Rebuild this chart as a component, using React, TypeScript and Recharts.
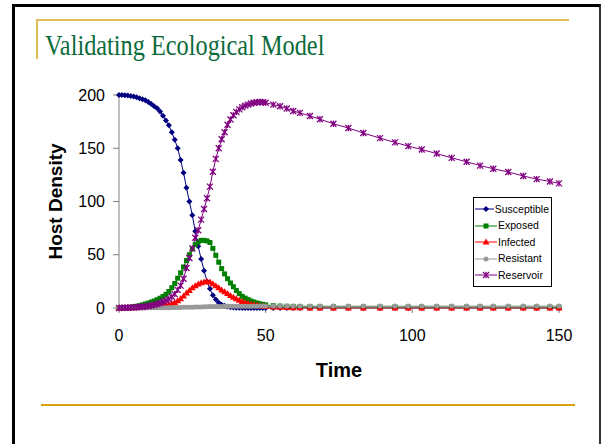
import { Legend, Line, LineChart, XAxis, YAxis, Label } from "recharts";

// time steps of the model output (dense early, adaptive later)
const times = [
	0, 1, 2, 3, 4, 5, 6, 7, 8, 9, 10, 11, 12, 13, 14, 15, 16, 17, 18, 19, 20,
	21, 22, 23, 24, 25, 26, 27, 28, 29, 30, 31, 32, 33, 34, 35, 36, 37, 38, 39,
	40, 41, 42, 43, 44, 45, 46, 47, 48, 49, 50, 52.6, 54.9, 57.2, 59.4, 61.7,
	65.1, 68.5, 73.1, 78.2, 83.3, 89, 94.1, 98.6, 103.2, 108.3, 113.4, 118.5,
	123.1, 127.6, 132.7, 137.8, 142.4, 146.9, 150,
];

const susceptible = [
	200, 200, 199.8, 199.5, 199, 198.5, 197.8, 197, 196, 195, 193.5, 191.5,
	189.5, 187.5, 184.5, 180.5, 176, 171.5, 165, 158, 150, 139, 127, 113, 100,
	87, 72, 58, 46, 35, 25, 18, 12, 8, 5, 3, 2, 1.3, 0.8, 0.5, 0.3, 0.2, 0.1,
	0.1, 0.1, 0, 0, 0, 0, 0, 0, 0, 0, 0, 0, 0, 0, 0, 0, 0, 0, 0, 0, 0, 0, 0, 0,
	0, 0, 0, 0, 0, 0, 0, 0,
];

const exposed = [
	0, 0.1, 0.2, 0.4, 0.7, 1.1, 1.6, 2.2, 3, 3.8, 4.6, 5.6, 6.6, 7.8, 9.2,
	10.8, 12.8, 15.5, 19, 23, 28, 33, 38.5, 44.5, 50, 55.5, 59.5, 62, 63.5,
	63.5, 63, 61.5, 56, 49.5, 43, 37, 32, 27.5, 23.5, 20, 16.5, 13.5, 11, 9.3,
	7.9, 6.6, 5.6, 4.7, 4, 3.4, 2.9, 2.2, 1.8, 1.6, 1.5, 1.4, 1.3, 1.2, 1.2,
	1.1, 1.1, 1.1, 1, 1, 1, 1, 1, 1, 1, 0.9, 0.9, 0.9, 0.9, 0.9, 0.9,
];

const infected = [
	0, 0, 0.05, 0.1, 0.15, 0.2, 0.3, 0.4, 0.5, 0.7, 0.9, 1.1, 1.4, 1.7, 2, 2.4,
	2.8, 3.4, 4.2, 5.2, 6.8, 8.8, 11.3, 14, 16.5, 19, 21, 22.5, 23.7, 24.5, 25,
	24.5, 22.8, 21, 19, 17, 15.2, 13.5, 11.7, 10, 8.6, 7.3, 6.2, 5.2, 4.3, 3.6,
	3, 2.5, 2, 1.7, 1.4, 0.9, 0.6, 0.4, 0.3, 0.2, 0.1, 0.1, 0, 0, 0, 0, 0, 0, 0,
	0, 0, 0, 0, 0, 0, 0, 0, 0, 0,
];

const resistant = [
	0, 0, 0, 0, 0, 0.05, 0.05, 0.1, 0.1, 0.1, 0.15, 0.15, 0.2, 0.2, 0.25, 0.3,
	0.3, 0.35, 0.4, 0.45, 0.5, 0.55, 0.6, 0.7, 0.75, 0.8, 0.9, 1, 1.05, 1.1,
	1.2, 1.3, 1.35, 1.4, 1.45, 1.5, 1.55, 1.6, 1.6, 1.65, 1.65, 1.7, 1.7, 1.7,
	1.75, 1.75, 1.75, 1.75, 1.8, 1.8, 1.8, 1.8, 1.8, 1.8, 1.8, 1.8, 1.8, 1.8,
	1.8, 1.8, 1.8, 1.8, 1.8, 1.8, 1.8, 1.8, 1.8, 1.8, 1.8, 1.8, 1.8, 1.8, 1.8,
	1.8, 1.8,
];

const reservoir = [
	0, 0.1, 0.2, 0.3, 0.4, 0.6, 0.8, 1, 1.2, 1.5, 1.9, 2.4, 3, 3.8, 4.7, 5.8, 7,
	8.5, 10.5, 13, 17, 21, 27.5, 37.5, 47, 56, 66, 73, 83, 93, 103, 114, 128,
	140, 150, 158.5, 165, 172, 177, 181, 184, 186.5, 188.5, 190, 191, 192,
	192.8, 193.2, 193.4, 193.2, 192.8, 191, 189.5, 187.3, 185, 183.2, 180.3,
	177.3, 173, 169, 164.3, 159.5, 155.5, 152, 148.8, 145, 141, 137.3, 133.7,
	130.8, 127.7, 124, 121, 118.8, 117,
];

const xTicks = [0, 50, 100, 150];
const yTicks = [0, 50, 100, 150, 200];

const data = times.map((t, i) => ({
	t,
	susceptible: susceptible[i],
	exposed: exposed[i],
	infected: infected[i],
	resistant: resistant[i],
	reservoir: reservoir[i],
}));

const series = [
	{ key: "susceptible", name: "Susceptible", color: "#000080", shape: "diamond" },
	{ key: "exposed", name: "Exposed", color: "#008000", shape: "square" },
	{ key: "infected", name: "Infected", color: "#ff0000", shape: "triangle" },
	{ key: "resistant", name: "Resistant", color: "#999999", shape: "circle" },
	{ key: "reservoir", name: "Reservoir", color: "#800080", shape: "star" },
];

const font = "'Liberation Sans', Arial, sans-serif";

const Marker = ({ cx, cy, shape, color }: any) => {
	if (cx == null || cy == null) return null;
	if (shape === "diamond")
		return (
			<polygon
				points={`${cx},${cy - 3} ${cx + 3},${cy} ${cx},${cy + 3} ${cx - 3},${cy}`}
				fill={color}
			/>
		);
	if (shape === "square")
		return <rect x={cx - 2.5} y={cy - 2.5} width={5} height={5} fill={color} />;
	if (shape === "triangle")
		return (
			<polygon
				points={`${cx},${cy - 3.5} ${cx + 3.5},${cy + 2.5} ${cx - 3.5},${cy + 2.5}`}
				fill={color}
			/>
		);
	if (shape === "circle") return <circle cx={cx} cy={cy} r={2.5} fill={color} />;
	return (
		<g stroke={color} strokeWidth={1.3}>
			<line x1={cx - 3} y1={cy - 3} x2={cx + 3} y2={cy + 3} />
			<line x1={cx - 3} y1={cy + 3} x2={cx + 3} y2={cy - 3} />
			<line x1={cx} y1={cy - 3.2} x2={cx} y2={cy + 3.2} />
		</g>
	);
};

// keep series order (recharts sorts legend payload by name)
const LegendBox = ({ payload }: any) => {
	const shown = new Set((payload || []).map((p: any) => p.value));
	return (
		<div
			style={{
				border: "1px solid #000",
				background: "#fff",
				padding: "3px 2px 2px 1px",
				fontFamily: font,
				fontSize: 10.5,
				lineHeight: "17px",
				color: "#000",
			}}
		>
			{series
				.filter((s) => shown.has(s.name))
				.map((s) => (
					<div key={s.key} style={{ display: "flex", alignItems: "center", height: 16.5 }}>
						<svg width={22} height={10} style={{ marginRight: 1 }}>
							<line x1={0} y1={5} x2={22} y2={5} stroke={s.color} strokeWidth={1} />
							<Marker cx={11} cy={5} shape={s.shape} color={s.color} />
						</svg>
						<span>{s.name}</span>
					</div>
				))}
		</div>
	);
};

export default function App() {
	return (
		<div
			style={{
				position: "absolute",
				left: 0,
				top: 0,
				width: 602,
				height: 444,
				overflow: "hidden",
				background: "#fff",
			}}
		>
			{/* slide frame */}
			<div
				style={{
					position: "absolute",
					left: 12,
					top: 4,
					width: 584,
					height: 460,
					borderLeft: "3px solid #000",
					borderTop: "3px solid #000",
					borderRight: "2px solid #333",
				}}
			/>
			<div style={{ position: "absolute", left: 36, top: 19, width: 533, height: 2, background: "#e2bd55" }} />
			<div style={{ position: "absolute", left: 36, top: 20, width: 2, height: 39, background: "#e2bd55" }} />
			<div style={{ position: "absolute", left: 41, top: 404, width: 534, height: 2, background: "#d9a30f" }} />
			<div
				style={{
					position: "absolute",
					left: 45,
					top: 30,
					fontFamily: "'Liberation Serif', 'Times New Roman', serif",
					fontSize: 30,
					lineHeight: "30px",
					color: "#0b6b3a",
					whiteSpace: "nowrap",
					transform: "scaleX(0.81)",
					transformOrigin: "0 0",
				}}
			>
				Validating Ecological Model
			</div>

			<div style={{ position: "absolute", left: 0, top: 0 }}>
				<LineChart
					width={602}
					height={444}
					data={data}
					margin={{ top: 95, right: 43, bottom: 66, left: 59 }}
				>
					<XAxis
						type="number"
						dataKey="t"
						domain={[0, 150]}
						ticks={xTicks}
						height={70}
						stroke="#808080"
						tickSize={5}
						tickMargin={17}
						tick={{ fill: "#000", fontSize: 16, fontFamily: font }}
					>
						<Label
							value="Time"
							position="insideBottom"
							offset={1}
							style={{ fontFamily: font, fontSize: 20, fontWeight: "bold", fill: "#000" }}
						/>
					</XAxis>
					<YAxis
						type="number"
						domain={[0, 200]}
						ticks={yTicks}
						width={60}
						stroke="#808080"
						tickSize={6}
						tickMargin={8}
						tick={{ fill: "#000", fontSize: 16, fontFamily: font }}
					>
						<Label
							value="Host Density"
							angle={-90}
							position="insideLeft"
							offset={-4}
							style={{
								textAnchor: "middle",
								fontFamily: font,
								fontSize: 19,
								fontWeight: "bold",
								fill: "#000",
							}}
						/>
					</YAxis>
					<Legend
						layout="vertical"
						align="center"
						verticalAlign="middle"
						content={<LegendBox />}
						wrapperStyle={{ left: 473, top: 197, width: 79 }}
					/>
					{series.map((s) => (
						<Line
							key={s.key}
							dataKey={s.key}
							name={s.name}
							type="linear"
							stroke={s.color}
							strokeWidth={1}
							isAnimationActive={false}
							activeDot={false}
							dot={(props: any) => (
								<Marker
									key={`${s.key}-${props.index}`}
									cx={props.cx}
									cy={props.cy}
									shape={s.shape}
									color={s.color}
								/>
							)}
						/>
					))}
				</LineChart>
			</div>
		</div>
	);
}
